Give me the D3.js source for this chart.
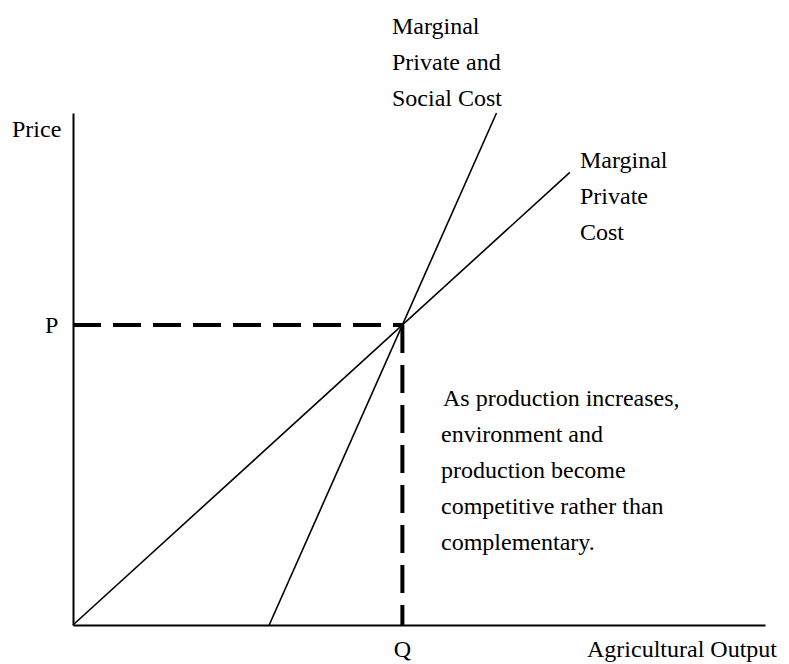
<!DOCTYPE html>
<html>
<head>
<meta charset="utf-8">
<script src="https://cdn.jsdelivr.net/npm/d3@7"></script>
<style>
body{margin:0;background:#fff}
</style>
</head>
<body>
<svg id="graph"></svg>
<script>
// curves, in output / price units (0..100 on both axes)
var mpcX=[0,71.8], mpcY=[0,88.4]
var mpscX=[28.35,61.2], mpscY=[0,100]
var eqQ=47.6, eqP=58.6

var mpcLabel=["Marginal","Private","Cost"]
var mpscLabel=["Marginal","Private and","Social Cost"]
var note=["As production increases,","environment and","production become","competitive rather than","complementary."]

var serif="'Liberation Serif', 'Times New Roman', 'DejaVu Serif', serif"

var screen={width:789,height:664}
var svg=d3.select("#graph")
.attr("width",screen.width)
.attr("height",screen.height)

var xscale=d3.scaleLinear()
.domain([0,100])
.range([73,765])

var yscale=d3.scaleLinear()
.domain([0,100])
.range([625,113])

// axes, no ticks
svg.append("g")
.attr("transform","translate(0,"+yscale(0)+")")
.call(d3.axisBottom(xscale).tickValues([]).tickSizeOuter(0))
.select(".domain").attr("stroke","#000").attr("stroke-width",2)

svg.append("g")
.attr("transform","translate("+xscale(0)+",0)")
.call(d3.axisLeft(yscale).tickValues([]).tickSizeOuter(0))
.select(".domain").attr("stroke","#000").attr("stroke-width",2)

var line=d3.line()
.x(function(d){return xscale(d[0])})
.y(function(d){return yscale(d[1])})

svg.append("path")
.attr("d",line(d3.zip(mpcX,mpcY)))
.attr("fill","none").attr("stroke","#000").attr("stroke-width",1.6)

svg.append("path")
.attr("d",line(d3.zip(mpscX,mpscY)))
.attr("fill","none").attr("stroke","#000").attr("stroke-width",1.6)

// dashed guides to P and Q
svg.append("path")
.attr("d",line([[0,eqP],[eqQ,eqP]]))
.attr("fill","none").attr("stroke","#000").attr("stroke-width",4)
.attr("stroke-dasharray","28,12")

svg.append("path")
.attr("d",line([[eqQ,eqP],[eqQ,0]]))
.attr("fill","none").attr("stroke","#000").attr("stroke-width",4)
.attr("stroke-dasharray","28,12")

var labels=svg.append("g")
.attr("font-family",serif)
.attr("font-size",24)
.attr("fill","#000")

labels.append("text").attr("x",12).attr("y",137).text("Price")
labels.append("text").attr("x",45).attr("y",yscale(eqP)+8).text("P")
labels.append("text").attr("x",xscale(eqQ)).attr("y",657).attr("text-anchor","middle").text("Q")
labels.append("text").attr("x",587).attr("y",657).text("Agricultural Output")

labels.selectAll(".mpsc").data(mpscLabel).enter().append("text")
.attr("x",392).attr("y",function(d,i){return 34+i*36}).text(function(d){return d})

labels.selectAll(".mpc").data(mpcLabel).enter().append("text")
.attr("x",580).attr("y",function(d,i){return 168+i*36}).text(function(d){return d})

labels.selectAll(".note").data(note).enter().append("text")
.attr("x",function(d,i){return i==0?443:441}).attr("y",function(d,i){return 406+i*36}).text(function(d){return d})
</script>
</body>
</html>
